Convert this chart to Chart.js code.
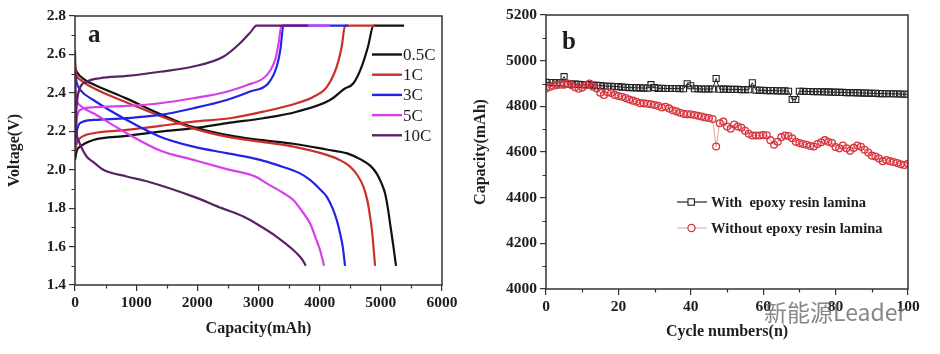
<!DOCTYPE html>
<html><head><meta charset="utf-8">
<script src="https://cdn.jsdelivr.net/npm/chart.js@4.4.1/dist/chart.umd.min.js"></script>
<style>
html,body{margin:0;padding:0;background:#fff;}
#wrap{position:relative;width:940px;height:354px;overflow:hidden;background:#fff}
#ca{position:absolute;left:0;top:0}
#cb{position:absolute;left:470px;top:0}
#wm{position:absolute;left:764px;top:298px;font-family:"Noto Sans CJK SC";font-size:23px;line-height:27px;color:rgba(105,105,105,0.8);white-space:nowrap}
</style></head>
<body><div id="wrap"><canvas id="ca" width="470" height="354"></canvas><canvas id="cb" width="470" height="354"></canvas><div id="wm">新能源Leader</div></div>
<script>
// ---------- Panel a: voltage vs capacity, [capacity mAh, voltage V] ----------
const rates = ['0.5C', '1C', '3C', '5C', '10C'];

const charge_05C = [[0,2.05],[30,2.10],[82,2.12],[300,2.155],[845,2.176],[1390,2.198],[1935,2.216],[2535,2.245],[3079,2.268],[3625,2.302],[4170,2.363],[4400,2.42],[4552,2.45],[4687,2.537],[4790,2.64],[4880,2.75],[5380,2.75]];
const discharge_05C = [[0,2.53],[27,2.51],[150,2.47],[300,2.445],[845,2.37],[1390,2.29],[1800,2.235],[2200,2.20],[2587,2.175],[3025,2.155],[3570,2.135],[4115,2.105],[4450,2.085],[4660,2.055],[4830,2.02],[4933,1.98],[5010,1.93],[5069,1.877],[5120,1.79],[5151,1.721],[5206,1.60],[5248,1.50]];

const charge_1C = [[0,2.10],[30,2.14],[82,2.164],[300,2.19],[845,2.207],[1390,2.228],[1935,2.25],[2535,2.268],[3079,2.302],[3625,2.346],[3900,2.38],[4115,2.43],[4279,2.537],[4360,2.64],[4415,2.75],[4905,2.75]];
const discharge_1C = [[0,2.56],[20,2.50],[80,2.47],[300,2.425],[845,2.35],[1390,2.28],[1935,2.215],[2480,2.172],[3025,2.146],[3570,2.12],[4115,2.077],[4300,2.055],[4497,2.016],[4620,1.97],[4715,1.912],[4780,1.84],[4824,1.756],[4860,1.67],[4879,1.60],[4906,1.50]];

const charge_3C = [[0,2.13],[30,2.20],[82,2.242],[300,2.259],[845,2.268],[1390,2.285],[1935,2.32],[2480,2.363],[2861,2.407],[3161,2.45],[3298,2.537],[3360,2.63],[3406,2.75],[4465,2.75]];
const discharge_3C = [[0,2.50],[30,2.45],[100,2.41],[300,2.363],[845,2.259],[1390,2.172],[1935,2.12],[2480,2.086],[3025,2.051],[3298,2.025],[3679,1.981],[3842,1.947],[4000,1.90],[4115,1.86],[4210,1.80],[4279,1.738],[4340,1.66],[4377,1.60],[4415,1.50]];

const charge_5C = [[0,2.18],[30,2.27],[82,2.311],[300,2.325],[845,2.332],[1390,2.346],[1935,2.372],[2480,2.406],[2807,2.44],[3079,2.476],[3200,2.52],[3280,2.58],[3330,2.66],[3375,2.75],[4170,2.75]];
const discharge_5C = [[0,2.40],[27,2.36],[100,2.33],[300,2.294],[845,2.19],[1390,2.10],[1935,2.051],[2480,2.003],[2950,1.964],[3134,1.929],[3400,1.88],[3570,1.842],[3720,1.78],[3842,1.721],[3940,1.64],[4006,1.582],[4072,1.50]];

const charge_10C = [[0,2.15],[20,2.30],[54,2.40],[191,2.458],[409,2.476],[845,2.488],[1390,2.51],[1935,2.537],[2425,2.588],[2698,2.658],[2880,2.72],[2965,2.75],[3810,2.75]];
const discharge_10C = [[0,2.62],[10,2.40],[27,2.20],[54,2.155],[191,2.068],[300,2.04],[463,2.0],[845,1.965],[1172,1.94],[1935,1.86],[2400,1.80],[2752,1.756],[3000,1.712],[3298,1.651],[3560,1.585],[3679,1.547],[3740,1.52],[3772,1.50]];

const voltTicks = [1.4, 1.6, 1.8, 2.0, 2.2, 2.4, 2.6, 2.8];
const capTicks = [0, 1000, 2000, 3000, 4000, 5000, 6000];

// ---------- Panel b: capacity vs cycle ----------
const cycles = [0,1,2,3,4,5,6,7,8,9,10,11,12,13,14,15,16,17,18,19,20,21,22,23,24,25,26,27,28,29,30,31,32,33,34,35,36,37,38,39,40,41,42,43,44,45,46,47,48,49,50,51,52,53,54,55,56,57,58,59,60,61,62,63,64,65,66,67,68,69,70,71,72,73,74,75,76,77,78,79,80,81,82,83,84,85,86,87,88,89,90,91,92,93,94,95,96,97,98,99,100];
const withEpoxy = [4905,4904,4904,4903,4903,4930,4898,4897,4897,4896,
4895,4895,4894,4893,4892,4891,4889,4888,4888,4887,
4886,4884,4883,4882,4882,4881,4881,4880,4880,4895,
4882,4879,4879,4878,4878,4878,4878,4877,4877,4899,
4890,4877,4877,4876,4876,4876,4876,4922,4875,4875,
4875,4874,4874,4874,4873,4873,4873,4903,4871,4870,
4870,4869,4869,4869,4868,4868,4868,4866,4830,4830,
4866,4866,4865,4865,4864,4864,4864,4863,4863,4862,
4862,4861,4861,4860,4860,4860,4859,4859,4858,4858,
4857,4857,4856,4856,4855,4855,4855,4854,4854,4853,
4853];
const withoutEpoxy = [4878,4885,4890,4893,4895,4895,4900,4893,4884,4877,
4882,4892,4900,4886,4878,4860,4850,4862,4858,4850,
4845,4842,4836,4830,4825,4820,4814,4813,4811,4809,
4806,4802,4795,4798,4791,4783,4778,4772,4767,4765,
4765,4762,4759,4755,4751,4749,4744,4624,4726,4733,
4712,4702,4720,4712,4706,4693,4680,4672,4672,4672,
4674,4673,4652,4632,4645,4665,4672,4670,4660,4645,
4639,4635,4632,4626,4624,4635,4643,4652,4645,4639,
4622,4616,4628,4616,4605,4618,4628,4623,4610,4598,
4584,4580,4571,4560,4565,4560,4556,4552,4546,4543,
4548];
const seriesNames = ['With  epoxy resin lamina', 'Without epoxy resin lamina'];
const cycTicks = [0, 20, 40, 60, 80, 100];
const capBTicks = [4000, 4200, 4400, 4600, 4800, 5000, 5200];

// ---------- styles ----------
const SERIF = '"Liberation Serif", "Times New Roman", serif';
const TXT = '#1e1e1e';
const rateColors = ['#111111', '#c8302c', '#2323e6', '#d640ea', '#5a2166'];

const toXY = arr => arr.map(p => ({x: p[0], y: p[1]}));
const curvesByRate = [
  [charge_05C, discharge_05C], [charge_1C, discharge_1C], [charge_3C, discharge_3C],
  [charge_5C, discharge_5C], [charge_10C, discharge_10C]
];

// frame + minor ticks + panel letter + legend
const decorPlugin = {
  id: 'decor',
  afterDraw(chart, args, o) {
    const {ctx, chartArea: a} = chart;
    const xs = chart.scales.x, ys = chart.scales.y;
    ctx.save();
    ctx.strokeStyle = '#333'; ctx.lineWidth = 1.5;
    ctx.strokeRect(a.left, a.top, a.right - a.left, a.bottom - a.top);
    ctx.lineWidth = 1.2;
    ctx.beginPath();
    for (let v = xs.min + o.minorX; v < xs.max; v += 2 * o.minorX) {
      const p = Math.round(xs.getPixelForValue(v)) + 0.5;
      ctx.moveTo(p, a.bottom); ctx.lineTo(p, a.bottom + 3.5);
    }
    for (let v = ys.min + o.minorY; v < ys.max; v += 2 * o.minorY) {
      const p = Math.round(ys.getPixelForValue(v)) + 0.5;
      ctx.moveTo(a.left, p); ctx.lineTo(a.left - 3.5, p);
    }
    ctx.stroke();
    // panel letter
    ctx.fillStyle = TXT;
    ctx.font = 'bold 25px ' + SERIF;
    ctx.textBaseline = 'alphabetic'; ctx.textAlign = 'left';
    ctx.fillText(o.letter, o.letterX, o.letterY);
    o.drawLegend(ctx);
    ctx.restore();
  }
};

const tickFont = {family: SERIF, size: 15.5, weight: 'bold'};
const titleFont = {family: SERIF, size: 16, weight: 'bold'};

function axisCommon(extra) {
  return Object.assign({
    type: 'linear',
    grid: {drawOnChartArea: false, drawTicks: true, tickLength: 6, color: '#333', lineWidth: 1.2},
    border: {display: false},
  }, extra);
}

// ---------- Chart a ----------
const dsA = [];
for (let i = rates.length - 1; i >= 0; i--) {
  curvesByRate[i].forEach((curve, k) => {
    dsA.push({
      label: rates[i] + (k === 0 ? ' charge' : ' discharge'),
      data: toXY(curve),
      borderColor: rateColors[i],
      borderWidth: 2.2,
      pointRadius: 0,
      cubicInterpolationMode: 'monotone',
      fill: false
    });
  });
}

new Chart(document.getElementById('ca'), {
  type: 'line',
  data: {datasets: dsA},
  options: {
    responsive: false, animation: false, devicePixelRatio: 1,
    layout: {padding: {left: 0, top: 16, right: 28, bottom: 0}},
    plugins: {
      legend: {display: false}, tooltip: {enabled: false},
      decor: {
        minorX: 500, minorY: 0.1, letter: 'a', letterX: 88, letterY: 42,
        drawLegend(ctx) {
          ctx.font = '17px ' + SERIF;
          ctx.textBaseline = 'middle';
          rates.forEach((r, i) => {
            const y = 54.5 + i * 20.2;
            ctx.strokeStyle = rateColors[i]; ctx.lineWidth = 2.4;
            ctx.beginPath(); ctx.moveTo(372, y); ctx.lineTo(402, y); ctx.stroke();
            ctx.fillStyle = TXT; ctx.fillText(r, 403, y + 1);
          });
        }
      }
    },
    scales: {
      x: axisCommon({
        min: 0, max: 6000,
        afterBuildTicks: s => { s.ticks = capTicks.map(v => ({value: v})); },
        ticks: {font: tickFont, color: TXT, padding: 3, maxRotation: 0, callback: v => String(v)},
        title: {display: true, text: 'Capacity(mAh)', font: titleFont, color: TXT, padding: {top: 0, bottom: 16}},
        afterFit: s => { s.height = 69; }
      }),
      y: axisCommon({
        min: 1.4, max: 2.8,
        afterBuildTicks: s => { s.ticks = voltTicks.map(v => ({value: v})); },
        ticks: {font: tickFont, color: TXT, padding: 3, callback: v => Number(v).toFixed(1)},
        title: {display: true, text: 'Voltage(V)', font: titleFont, color: TXT, padding: {top: 5, bottom: 0}},
        afterFit: s => { s.width = 75; }
      })
    }
  },
  plugins: [decorPlugin]
});

// ---------- Chart b ----------
const redCol = '#d7353e';
new Chart(document.getElementById('cb'), {
  type: 'line',
  data: {datasets: [
    {
      label: seriesNames[1],
      data: cycles.map((c, i) => ({x: c, y: withoutEpoxy[i]})),
      borderColor: 'rgba(215,60,70,0.55)', borderWidth: 0.9,
      pointStyle: 'circle', pointRadius: 3.4, pointBorderWidth: 1.3,
      pointBorderColor: redCol, pointBackgroundColor: 'rgba(255,255,255,0)',
      tension: 0, fill: false
    },
    {
      label: seriesNames[0],
      data: cycles.map((c, i) => ({x: c, y: withEpoxy[i]})),
      borderColor: '#222', borderWidth: 1,
      pointStyle: 'rect', pointRadius: 4.3, pointBorderWidth: 1.1,
      pointBorderColor: '#222', pointBackgroundColor: 'rgba(255,255,255,0)',
      tension: 0, fill: false
    }
  ]},
  options: {
    responsive: false, animation: false, devicePixelRatio: 1,
    layout: {padding: {left: 0, top: 15, right: 32, bottom: 0}},
    plugins: {
      legend: {display: false}, tooltip: {enabled: false},
      decor: {
        minorX: 10, minorY: 100, letter: 'b', letterX: 92, letterY: 49,
        drawLegend(ctx) {
          ctx.font = 'bold 14.5px ' + SERIF;
          ctx.textBaseline = 'middle';
          // row 1
          let y = 202;
          ctx.strokeStyle = '#222'; ctx.lineWidth = 1.2;
          ctx.beginPath(); ctx.moveTo(207, y); ctx.lineTo(237, y); ctx.stroke();
          ctx.fillStyle = '#fff'; ctx.fillRect(218, y - 3.2, 6.4, 6.4);
          ctx.lineWidth = 1.1; ctx.strokeRect(218, y - 3.2, 6.4, 6.4);
          ctx.fillStyle = TXT; ctx.fillText(seriesNames[0], 241, y + 1);
          // row 2
          y = 228;
          ctx.strokeStyle = 'rgba(215,60,70,0.55)'; ctx.lineWidth = 0.9;
          ctx.beginPath(); ctx.moveTo(207, y); ctx.lineTo(237, y); ctx.stroke();
          ctx.fillStyle = '#fff';
          ctx.beginPath(); ctx.arc(221.5, y, 3.6, 0, Math.PI * 2); ctx.fill();
          ctx.strokeStyle = redCol; ctx.lineWidth = 1.3; ctx.stroke();
          ctx.fillStyle = TXT; ctx.fillText(seriesNames[1], 241, y + 1);
        }
      }
    },
    scales: {
      x: axisCommon({
        min: 0, max: 100,
        afterBuildTicks: s => { s.ticks = cycTicks.map(v => ({value: v})); },
        ticks: {font: tickFont, color: TXT, padding: 3, maxRotation: 0, callback: v => String(v)},
        title: {display: true, text: 'Cycle numbers(n)', font: titleFont, color: TXT, padding: {top: 0, bottom: 12.5}},
        afterFit: s => { s.height = 65; }
      }),
      y: axisCommon({
        min: 4000, max: 5200,
        afterBuildTicks: s => { s.ticks = capBTicks.map(v => ({value: v})); },
        ticks: {font: tickFont, color: TXT, padding: 3, callback: v => String(v)},
        title: {display: true, text: 'Capacity(mAh)', font: titleFont, color: TXT, padding: {top: 1, bottom: 0}},
        afterFit: s => { s.width = 76; }
      })
    }
  },
  plugins: [decorPlugin]
});
</script>
</body></html>
